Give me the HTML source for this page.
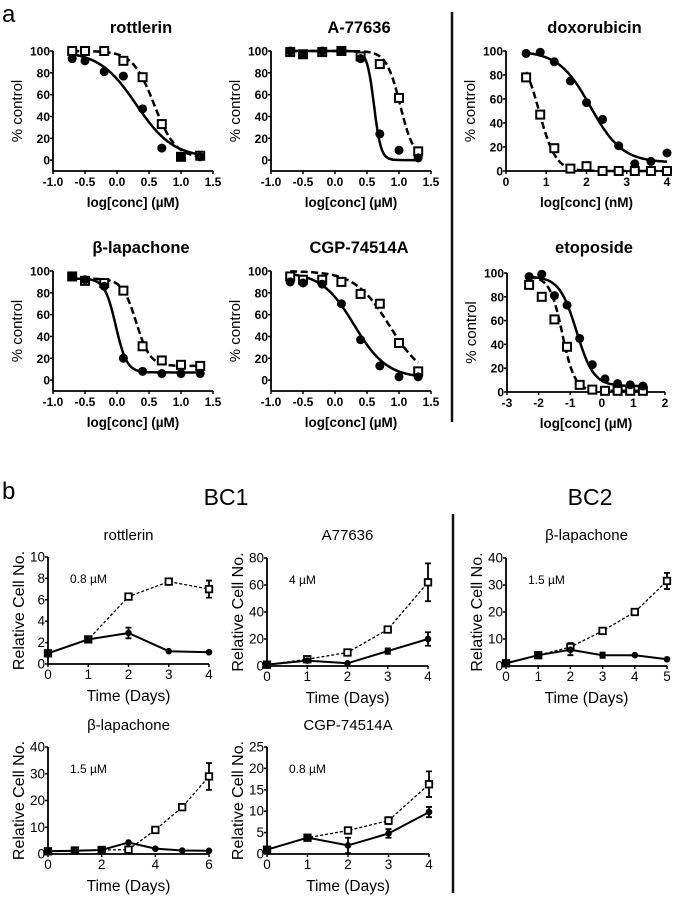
<!DOCTYPE html>
<html><head><meta charset="utf-8">
<style>
html,body{margin:0;padding:0;background:#fff;}
svg{display:block;font-family:"Liberation Sans",Arial,sans-serif;}
</style></head>
<body>
<svg id="fig" width="677" height="897" viewBox="0 0 677 897" xmlns="http://www.w3.org/2000/svg">
<text x="2" y="22" font-size="24">a</text>
<text x="2" y="499" font-size="24">b</text>
<line x1="452" y1="12" x2="452" y2="422" stroke="#111" stroke-width="2.5"/>
<line x1="453" y1="514" x2="453" y2="893" stroke="#111" stroke-width="2.5"/>
<text x="226" y="505" font-size="23" text-anchor="middle">BC1</text>
<text x="590" y="505" font-size="23" text-anchor="middle">BC2</text>
</svg>
<script>
// ---- section a data ----
const rotX=[-0.7,-0.5,-0.2,0.1,0.4,0.7,1.0,1.3];
const rotFilled=[93,91,81,77,47,11,3,3];
const rotOpen=[100,100,100,91,76,33,3,4];
const rotFitFilled=[100,2,0.3,-1.5];
const rotFitOpen=[100,2,0.58,-2.6];
const a77X=[-0.7,-0.5,-0.2,0.1,0.4,0.7,1.0,1.3];
const a77Filled=[100,97,100,100,93,24,9,2];
const a77Open=[99,97,99,100,95,88,57,8];
const a77FitFilled=[100,0,0.61,-8];
const a77FitOpen=[100,0,1.02,-4];
const doxX=[0.5,0.85,1.2,1.6,2.0,2.4,2.8,3.2,3.6,4.0];
const doxFilled=[98,99,91,75,57,43,21,6,8,15];
const doxOpen=[78,47,19,2,4,0,0,0,0,0];
const doxFitFilled=[100,7,2.1,-1.1];
const doxFitOpen=[100,0,0.82,-2.1];
const lapX=[-0.7,-0.5,-0.2,0.1,0.4,0.7,1.0,1.3];
const lapFilled=[95,92,86,20,8,6,6,6];
const lapOpen=[95,91,89,82,31,18,14,13];
const lapFitFilled=[93,7,-0.02,-5];
const lapFitOpen=[93,13,0.3,-4];
const cgpX=[-0.7,-0.5,-0.2,0.1,0.4,0.7,1.0,1.3];
const cgpFilled=[90,89,88,70,37,13,3,3];
const cgpOpen=[95,92,92,90,79,70,34,8];
const cgpFitFilled=[99,2,0.3,-1.7];
const cgpFitOpen=[100,0,0.85,-1.6];
const etoX=[-2.3,-1.9,-1.5,-1.1,-0.7,-0.3,0.1,0.5,0.9,1.3];
const etoFilled=[97,99,81,73,45,23,11,7,6,5];
const etoOpen=[90,80,61,38,6,2,1,1,1,1];
const etoFitFilled=[97,5,-0.8,-1.6];
const etoFitOpen=[97,1,-1.25,-2.2];
const tickA=[-1.0,-0.5,0.0,0.5,1.0,1.5];
const tickDox=[0,1,2,3,4];
const tickEto=[-3,-2,-1,0,1,2];
const tickPct=[0,20,40,60,80,100];
// ---- section b data ----
const rotDays=[0,1,2,3,4];
const rotGrowFilled=[1,2.3,2.9,1.2,1.1];
const rotGrowFilledErr=[0,0,0.5,0,0];
const rotGrowOpen=[1,2.3,6.3,7.7,7.0];
const rotGrowOpenErr=[0,0,0.2,0,0.8];
const aDays=[0,1,2,3,4];
const aGrowFilled=[1,4,2,11,20];
const aGrowFilledErr=[0,0,0,2,5];
const aGrowOpen=[1,5,10,27,62];
const aGrowOpenErr=[0,0,0,2,14];
const bc2Days=[0,1,2,3,4,5];
const bc2GrowFilled=[1,4,6,4,4,2.5];
const bc2GrowFilledErr=[0,0,2,1,0,0];
const bc2GrowOpen=[1,4,7,13,20,31.5];
const bc2GrowOpenErr=[0,0,1.5,0.5,0,3];
const lDays=[0,1,2,3,4,5,6];
const lGrowFilled=[1,1.2,1.5,4.3,2,1.3,1.2];
const lGrowFilledErr=[0,0,0,0,0,0,0];
const lGrowOpen=[1,1.3,1.5,1.6,9,17.5,29];
const lGrowOpenErr=[0,0,0,0,0,0,5];
const cDays=[0,1,2,3,4];
const cGrowFilled=[1,3.8,2,4.8,9.8];
const cGrowFilledErr=[0,0,1.8,1,1.2];
const cGrowOpen=[1,3.8,5.5,7.8,16.3];
const cGrowOpenErr=[0,0,0.5,0.8,3];

const NS="http://www.w3.org/2000/svg";
const svg=document.getElementById('fig');
function mk(tag,attrs,parent){const e=document.createElementNS(NS,tag);for(const k in attrs)e.setAttribute(k,attrs[k]);(parent||svg).appendChild(e);return e;}
function txt(s,attrs,parent){const e=mk('text',attrs,parent);e.textContent=s;return e;}
function fit(p,x){return p[1]+(p[0]-p[1])/(1+Math.pow(10,(p[2]-x)*p[3]));}

function axes(g,c,px,py,xt,yt,bold,xfmt){
  const la=mk('line',{x1:c.L,y1:c.B,x2:c.L,y2:py(yt[yt.length-1]),stroke:'#000','stroke-width':1.8},g);
  
  
  const lb=mk('line',{x1:c.L,y1:c.B,x2:c.R,y2:c.B,stroke:'#000','stroke-width':1.8},g);
  
  
  const fs=bold?12:13.5, fw=bold?'bold':'normal';
  yt.forEach(v=>{const y=py(v);
    mk('line',{x1:c.L-3,y1:y,x2:c.L,y2:y,stroke:'#000','stroke-width':1.5},g);
    const t=txt(String(v),{x:c.L-3,y:y+4.5,'font-size':fs,'font-weight':fw,'text-anchor':'end'},g);
    
    });
  xt.forEach(v=>{const x=px(v);
    mk('line',{x1:x,y1:c.B,x2:x,y2:c.B+3,stroke:'#000','stroke-width':1.5},g);
    const t=txt(xfmt?xfmt(v):String(v),{x:x,y:c.B+15,'font-size':fs,'font-weight':fw,'text-anchor':'middle'},g);
    
    });
}
function frame(c,name){
  const g=mk('g',{});
  
  
  const px=x=>c.L+(x-c.xmin)/(c.xmax-c.xmin)*(c.R-c.L);
  const py=y=>c.B-(y-c.ymin)/(c.ymax-c.ymin)*(c.B-c.T);
  return {g,px,py};
}
function filledDot(g,x,y,r){const e=mk('circle',{cx:x,cy:y,r:r,fill:'#000'},g);}
function openSq(g,x,y,s,w){const e=mk('rect',{x:x-s/2,y:y-s/2,width:s,height:s,fill:'#fff',stroke:'#000','stroke-width':w},g);}

function doseResponse(c,name,title,xs,yf,yo,pf,po,xt,unit){
  const {g,px,py}=frame(c,name);
  const tt=txt(title,{x:(c.L+c.R)/2+8,y:c.titleY,'font-size':16.5,'font-weight':'bold','text-anchor':'middle'},g);
  
  
  axes(g,c,px,py,xt,tickPct,true,c.fmt);
  const yl=txt('% control',{x:0,y:0,'font-size':15,'text-anchor':'middle',transform:`translate(${c.L-31},${(c.B+py(100))/2}) rotate(-90)`},g);
  
  
  const xl=txt('log[conc] ('+unit+')',{x:(c.L+c.R)/2,y:c.B+36,'font-size':13.5,'font-weight':'bold','text-anchor':'middle'},g);
  
  
  [[pf,'none','fit-filled'],[po,'7,3.5','fit-open']].forEach(([p,da,nm])=>{
    let d='';const x0=xs[0],x1=xs[xs.length-1];
    for(let i=0;i<=120;i++){const x=x0+(x1-x0)*i/120;d+=(i?'L':'M')+px(x).toFixed(1)+' '+py(fit(p,x)).toFixed(1);}
    const e=mk('path',{d:d,fill:'none',stroke:'#000','stroke-width':2.5,'stroke-dasharray':da},g);
    
    });
  xs.forEach((x,i)=>openSq(g,px(x),py(yo[i]),8,2));
  xs.forEach((x,i)=>filledDot(g,px(x),py(yf[i]),4.5));
}
const fmt1=v=>v.toFixed(1);
doseResponse({L:53,R:213,B:171,T:51,xmin:-1,xmax:1.5,ymin:-10,ymax:100,titleY:33,fmt:fmt1},'chart-rottlerin','rottlerin',rotX,rotFilled,rotOpen,rotFitFilled,rotFitOpen,tickA,'\u00b5M');
doseResponse({L:271,R:431,B:171,T:51,xmin:-1,xmax:1.5,ymin:-10,ymax:100,titleY:33,fmt:fmt1},'chart-a77636','A-77636',a77X,a77Filled,a77Open,a77FitFilled,a77FitOpen,tickA,'\u00b5M');
doseResponse({L:506,R:667,B:171,T:51,xmin:0,xmax:4,ymin:0,ymax:100,titleY:33},'chart-doxorubicin','doxorubicin',doxX,doxFilled,doxOpen,doxFitFilled,doxFitOpen,tickDox,'nM');
doseResponse({L:53,R:213,B:391,T:271,xmin:-1,xmax:1.5,ymin:-10,ymax:100,titleY:253,fmt:fmt1},'chart-b-lapachone','\u03b2-lapachone',lapX,lapFilled,lapOpen,lapFitFilled,lapFitOpen,tickA,'\u00b5M');
doseResponse({L:271,R:431,B:391,T:271,xmin:-1,xmax:1.5,ymin:-10,ymax:100,titleY:253,fmt:fmt1},'chart-cgp74514a','CGP-74514A',cgpX,cgpFilled,cgpOpen,cgpFitFilled,cgpFitOpen,tickA,'\u00b5M');
doseResponse({L:507,R:665,B:392,T:273,xmin:-3,xmax:2,ymin:0,ymax:100,titleY:253},'chart-etoposide','etoposide',etoX,etoFilled,etoOpen,etoFitFilled,etoFitOpen,tickEto,'\u00b5M');

function growth(c,name,title,conc,days,yf,ef,yo,eo,xt,yt){
  const {g,px,py}=frame(c,name);
  const tt=txt(title,{x:(c.L+c.R)/2,y:c.titleY,'font-size':15,'text-anchor':'middle'},g);
  
  
  axes(g,c,px,py,xt,yt,false);
  const yl=txt('Relative Cell No.',{x:0,y:0,'font-size':16,'text-anchor':'middle',transform:`translate(${c.L-24},${(c.B+c.T)/2}) rotate(-90)`},g);
  
  
  const xl=txt('Time (Days)',{x:(c.L+c.R)/2,y:c.B+37,'font-size':15.5,'text-anchor':'middle'},g);
  
  
  const ct=txt(conc,{x:c.L+22,y:c.T+26,'font-size':12},g);
  
  
  [[yo,eo,'3,2','line-open'],[yf,ef,'none','line-filled']].forEach(([ys,es,da,nm])=>{
    const d=days.map((x,i)=>(i?'L':'M')+px(x).toFixed(1)+' '+py(ys[i]).toFixed(1)).join('');
    const e=mk('path',{d:d,fill:'none',stroke:'#000','stroke-width':da==='none'?2:1.3,'stroke-dasharray':da},g);
    
    
    days.forEach((x,i)=>{if(es[i]>0){const X=px(x);
      mk('path',{d:`M${X} ${py(ys[i]-es[i])}L${X} ${py(ys[i]+es[i])}M${X-3} ${py(ys[i]-es[i])}L${X+3} ${py(ys[i]-es[i])}M${X-3} ${py(ys[i]+es[i])}L${X+3} ${py(ys[i]+es[i])}`,stroke:'#000','stroke-width':1.8,fill:'none'},g);}});
  });
  days.forEach((x,i)=>openSq(g,px(x),py(yo[i]),6.5,1.8));
  days.forEach((x,i)=>filledDot(g,px(x),py(yf[i]),3.3));
}
growth({L:48,R:209,B:664,T:557,xmin:0,xmax:4,ymin:0,ymax:10,titleY:540},'chart-growth-rottlerin','rottlerin','0.8 \u00b5M',rotDays,rotGrowFilled,rotGrowFilledErr,rotGrowOpen,rotGrowOpenErr,[0,1,2,3,4],[0,2,4,6,8,10]);
growth({L:267,R:428,B:666,T:558,xmin:0,xmax:4,ymin:0,ymax:80,titleY:540},'chart-growth-a77636','A77636','4 \u00b5M',aDays,aGrowFilled,aGrowFilledErr,aGrowOpen,aGrowOpenErr,[0,1,2,3,4],[0,20,40,60,80]);
growth({L:506,R:667,B:666,T:558,xmin:0,xmax:5,ymin:0,ymax:40,titleY:540},'chart-growth-bc2-lapachone','\u03b2-lapachone','1.5 \u00b5M',bc2Days,bc2GrowFilled,bc2GrowFilledErr,bc2GrowOpen,bc2GrowOpenErr,[0,1,2,3,4,5],[0,10,20,30,40]);
growth({L:48,R:209,B:854,T:747,xmin:0,xmax:6,ymin:0,ymax:40,titleY:730},'chart-growth-lapachone','\u03b2-lapachone','1.5 \u00b5M',lDays,lGrowFilled,lGrowFilledErr,lGrowOpen,lGrowOpenErr,[0,2,4,6],[0,10,20,30,40]);
growth({L:267,R:429,B:854,T:747,xmin:0,xmax:4,ymin:0,ymax:25,titleY:730},'chart-growth-cgp74514a','CGP-74514A','0.8 \u00b5M',cDays,cGrowFilled,cGrowFilledErr,cGrowOpen,cGrowOpenErr,[0,1,2,3,4],[0,5,10,15,20,25]);
</script>
</body></html>
